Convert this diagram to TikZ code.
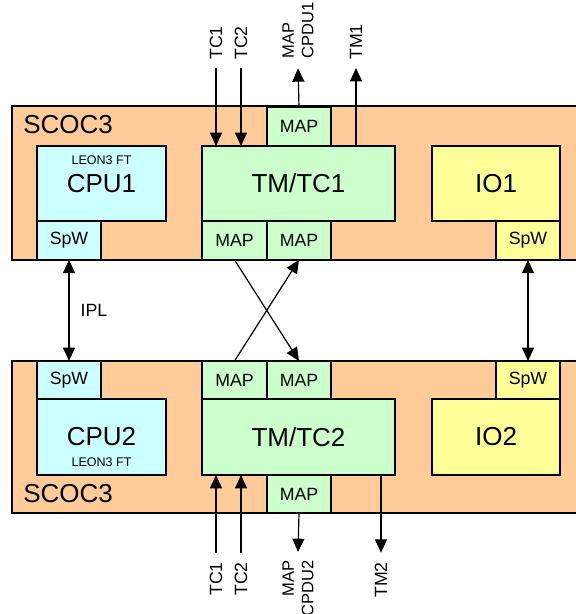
\documentclass[tikz,border=0pt]{standalone}
\usepackage{fontspec}
\setmainfont{Liberation Sans}
\usetikzlibrary{positioning,arrows.meta}
\definecolor{socorange}{RGB}{255,204,153}
\definecolor{cpucyan}{RGB}{204,255,255}
\definecolor{tmtcgreen}{RGB}{204,255,204}
\definecolor{ioyellow}{RGB}{255,255,153}

\begin{document}
\begin{tikzpicture}[x=0.75pt, y=-0.75pt,
    base/.style   ={rectangle, draw, line width=1.1pt, inner sep=0pt, outer sep=0pt},
    chip/.style   ={base, fill=socorange, minimum width=433.5pt},
    cpubox/.style ={base, fill=cpucyan, minimum width=96.75pt,
                    font=\fontsize{19.5}{22}\selectfont},
    tmtcbox/.style={base, fill=tmtcgreen, minimum width=144.75pt, minimum height=56.25pt,
                    font=\fontsize{19.5}{22}\selectfont},
    iobox/.style  ={base, fill=ioyellow, minimum width=96pt, minimum height=56.25pt,
                    font=\fontsize{19.5}{22}\selectfont},
    port/.style   ={base, minimum width=48pt, minimum height=29pt,
                    font=\fontsize{13.3}{15}\selectfont},
    socname/.style={anchor=west, inner sep=0pt, font=\fontsize{19.5}{22}\selectfont},
    leon/.style   ={inner sep=0pt, font=\fontsize{9.4}{11}\selectfont},
    vlbl/.style   ={rotate=90, inner sep=0pt, font=\fontsize{13.3}{15}\selectfont},
    arr/.style    ={-{Triangle[length=10pt, width=9pt]}, line width=0.9pt},
    darr/.style   ={{Triangle[length=10pt, width=9pt]}-{Triangle[length=10pt, width=9pt]}, line width=0.9pt}]
    \useasboundingbox (0,0) rectangle (575,614);

    % SCOC3 chips
    \node[chip, minimum height=115.5pt] (soc1) at (301,183) {};
    \node[chip, minimum height=114pt]   (soc2) at (301,437) {};
    \node[socname] (soc1n) at (23,125) {SCOC3};
    \node[socname] (soc2n) at (23,494) {SCOC3};

    % CPUs
    \node[cpubox, minimum height=56.25pt] (cpu1) at (101.5,183.5) {CPU1};
    \node[leon, anchor=north] (leon1) at ([yshift=-7pt]cpu1.north) {LEON3 FT};
    \node[port, fill=cpucyan] (spwc1) at (69,240.5) {SpW};
    \node[cpubox, minimum height=57pt] (cpu2) at (101.5,437) {CPU2};
    \node[leon, anchor=south] (leon2) at ([yshift=6pt]cpu2.south) {LEON3 FT};
    \node[port, fill=cpucyan, minimum height=28.5pt] (spwc2) at (69,380) {SpW};

    % TM/TC units
    \node[tmtcbox] (tmtc1) at (298.5,183.5) {TM/TC1};
    \node[port, fill=tmtcgreen] (mapt1) at (299,126.5) {MAP};
    \node[port, fill=tmtcgreen, minimum width=48.75pt] (mapa1) at (234.5,240.5) {MAP};
    \node[port, fill=tmtcgreen] (mapb1) at (299,240.5) {MAP};
    \node[tmtcbox, minimum height=57pt] (tmtc2) at (298.5,437) {TM/TC2};
    \node[port, fill=tmtcgreen, minimum width=48.75pt, minimum height=28.5pt] (mapa2) at (234.5,380) {MAP};
    \node[port, fill=tmtcgreen, minimum height=28.5pt] (mapb2) at (299,380) {MAP};
    \node[port, fill=tmtcgreen, minimum height=28.5pt] (mapt2) at (299,494) {MAP};

    % IO units
    \node[iobox] (io1) at (496,183.5) {IO1};
    \node[port, fill=ioyellow] (spwi1) at (528,240.5) {SpW};
    \node[iobox, minimum height=57pt] (io2) at (496,437) {IO2};
    \node[port, fill=ioyellow, minimum height=28.5pt] (spwi2) at (528,380) {SpW};

    % top signal labels
    \node[vlbl, anchor=west] (tc1a) at (216,60) {TC1};
    \node[vlbl, anchor=west] (tc2a) at (241,60) {TC2};
    \node[vlbl, anchor=west, align=left, font=\fontsize{12.4}{14.5}\selectfont] (cpdu1) at (298,59) {MAP\\CPDU1};
    \node[vlbl, anchor=west] (tm1) at (356,60) {TM1};
    % bottom signal labels
    \node[vlbl, anchor=east] (tc1b) at (216,562) {TC1};
    \node[vlbl, anchor=east] (tc2b) at (241,562) {TC2};
    \node[vlbl, anchor=east, align=right, font=\fontsize{12.4}{14.5}\selectfont] (cpdu2) at (298,560) {MAP\\CPDU2};
    \node[vlbl, anchor=east] (tm2) at (381,562) {TM2};

    \draw[arr] ([yshift=-6pt]tc1a.west) -- (tc1a.west |- tmtc1.north);
    \draw[arr] ([yshift=-6pt]tc2a.west) -- (tc2a.west |- tmtc1.north);
    \draw[arr] (mapt1.north) -- ([yshift=-7pt]cpdu1.west);
    \draw[arr] (tm1.west |- tmtc1.north) -- ([yshift=-6pt]tm1.west);
    \draw[arr] ([yshift=7pt]tc1b.east) -- (tc1b.east |- tmtc2.south);
    \draw[arr] ([yshift=7pt]tc2b.east) -- (tc2b.east |- tmtc2.south);
    \draw[arr] (mapt2.south) -- ([yshift=6pt]cpdu2.east);
    \draw[arr] (tm2.east |- tmtc2.south) -- ([yshift=7pt]tm2.east);

    % links between the chips
    \draw[arr] (mapa1.south) -- (mapb2.north);
    \draw[arr] (mapa2.north) -- (mapb1.south);
    \draw[darr] (spwc1.south) -- node[right=5pt, font=\fontsize{13.3}{15}\selectfont] (ipl) {IPL} (spwc2.north);
    \draw[darr] (spwi1.south) -- (spwi2.north);
\end{tikzpicture}
\end{document}
